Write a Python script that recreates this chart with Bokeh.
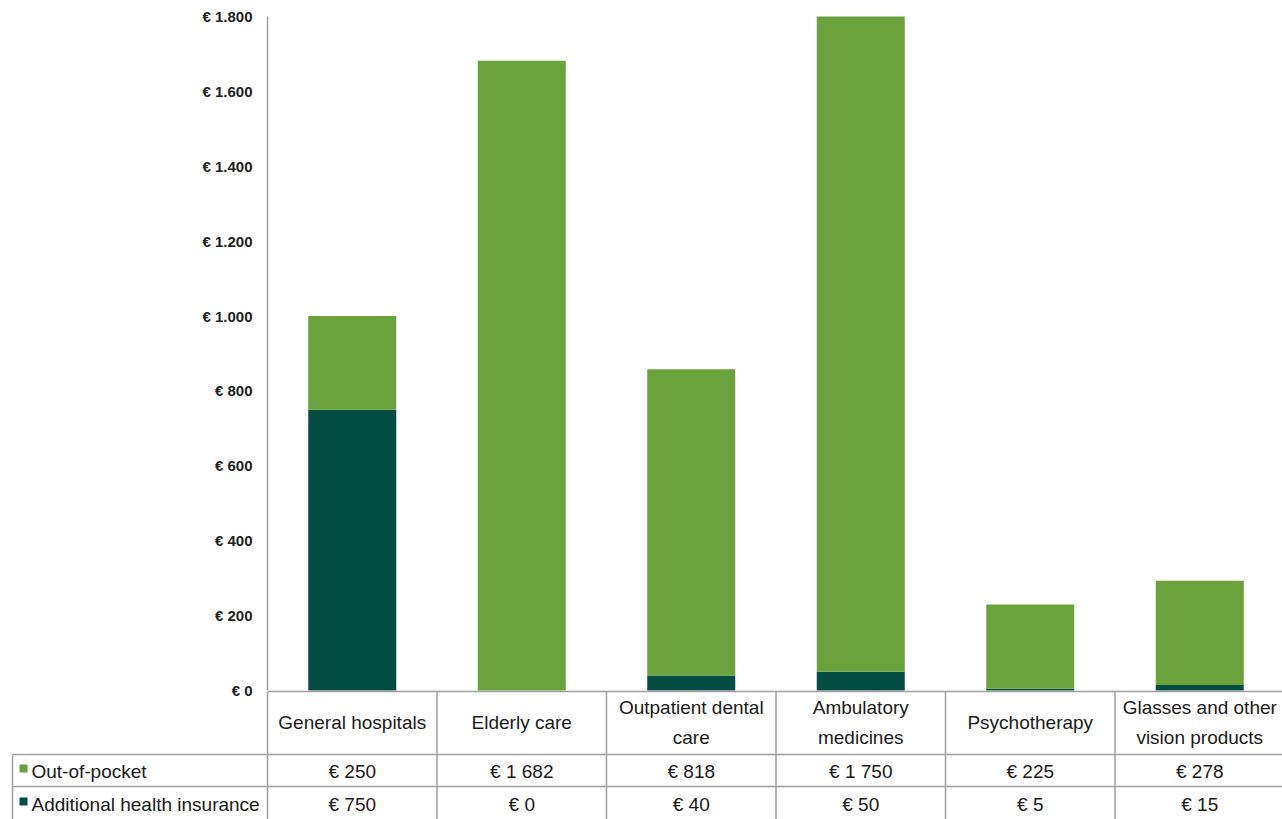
from bokeh.plotting import figure
from bokeh.models import Range1d, ColumnDataSource
from bokeh.core.properties import value
from bokeh.embed import file_html
from bokeh.resources import INLINE

# Annual spending per category (euro)
categories = ["General hospitals", "Elderly care", "Outpatient dental\ncare",
              "Ambulatory\nmedicines", "Psychotherapy", "Glasses and other\nvision products"]
out_of_pocket = [250, 1682, 818, 1750, 225, 278]
additional_insurance = [750, 0, 40, 50, 5, 15]
series_names = ["Out-of-pocket", "Additional health insurance"]
y_ticks = [0, 200, 400, 600, 800, 1000, 1200, 1400, 1600, 1800]

LIGHT = "#6ba23b"
DARK = "#024c42"
GRID = "#a0a0a0"
INK = "#1a1a1a"
FONT = value("Liberation Sans")

W, H = 1282, 819
COL_W = 169.5        # pixels per category column
LEFT = 267           # pixel x of the value axis / first table column
ZERO_PX = 690        # pixel y of the zero line
TOP_PX = 16          # pixel y of the axis maximum
Y_MAX = 1800
n = len(categories)
per_px = Y_MAX / (ZERO_PX - TOP_PX)


def px_x(px):
    return (px - LEFT) / COL_W


def px_y(px):
    return (ZERO_PX - px) * per_px


def fmt_axis(v):
    return "€ " + f"{v:,}".replace(",", ".")


def fmt_cell(v):
    return "€ " + f"{v:,}".replace(",", " ")


xs = [i + 0.5 for i in range(n)]

p = figure(width=W, height=H,
           x_range=Range1d(px_x(0), px_x(W)), y_range=Range1d(px_y(H), px_y(0)),
           output_backend="svg", toolbar_location=None,
           x_axis_location=None, y_axis_location=None,
           min_border_left=0, min_border_right=0, min_border_top=0, min_border_bottom=0)
p.outline_line_color = None
p.grid.visible = False

# ---- stacked bars ----
src = ColumnDataSource(dict(x=xs, ins=additional_insurance, oop=out_of_pocket))
p.vbar_stack(["ins", "oop"], x="x", width=88 / COL_W, color=[DARK, LIGHT], source=src,
             line_color=None)

# ---- value axis ----
p.segment(x0=[0], y0=[0], x1=[0], y1=[Y_MAX], line_color=GRID, line_width=1.5)
p.text(x=[px_x(LEFT - 15)] * len(y_ticks), y=y_ticks, text=[fmt_axis(t) for t in y_ticks],
       text_align="right", text_baseline="middle", text_font=FONT,
       text_font_size="15px", text_font_style="bold", text_color="#222222")

# ---- data table ----
head_top, head_bot, row_div = px_y(691), px_y(754), px_y(786)
label_left = px_x(12)
bounds = list(range(n + 1))
p.segment(x0=bounds, y0=[px_y(691)] * len(bounds), x1=bounds, y1=[px_y(H)] * len(bounds),
          line_color=GRID, line_width=1.5)
p.segment(x0=[0, label_left, label_left], y0=[head_top, head_bot, row_div],
          x1=[n, n, n], y1=[head_top, head_bot, row_div],
          line_color=GRID, line_width=1.5)
p.segment(x0=[label_left], y0=[head_bot], x1=[label_left], y1=[px_y(H)],
          line_color=GRID, line_width=1.5)

p.text(x=xs, y=[px_y(722)] * n, text=categories, text_align="center",
       text_baseline="middle", text_font=FONT, text_font_size="19px",
       text_line_height=1.45, text_color=INK)
p.text(x=xs, y=[px_y(771)] * n, text=[fmt_cell(v) for v in out_of_pocket],
       text_align="center", text_baseline="middle", text_font=FONT,
       text_font_size="19px", text_color=INK)
p.text(x=xs, y=[px_y(804)] * n, text=[fmt_cell(v) for v in additional_insurance],
       text_align="center", text_baseline="middle", text_font=FONT,
       text_font_size="19px", text_color=INK)

# row labels with colour keys
p.rect(x=[px_x(23)] * 2, y=[px_y(768), px_y(801)], width=8, height=8,
       width_units="screen", height_units="screen", color=[LIGHT, DARK], line_color=None)
p.text(x=[px_x(31)] * 2, y=[px_y(771), px_y(804)], text=series_names,
       text_align="left", text_baseline="middle", text_font=FONT, text_font_size="19px",
       text_color=INK)

open("out.html", "w").write(file_html(p, INLINE))
